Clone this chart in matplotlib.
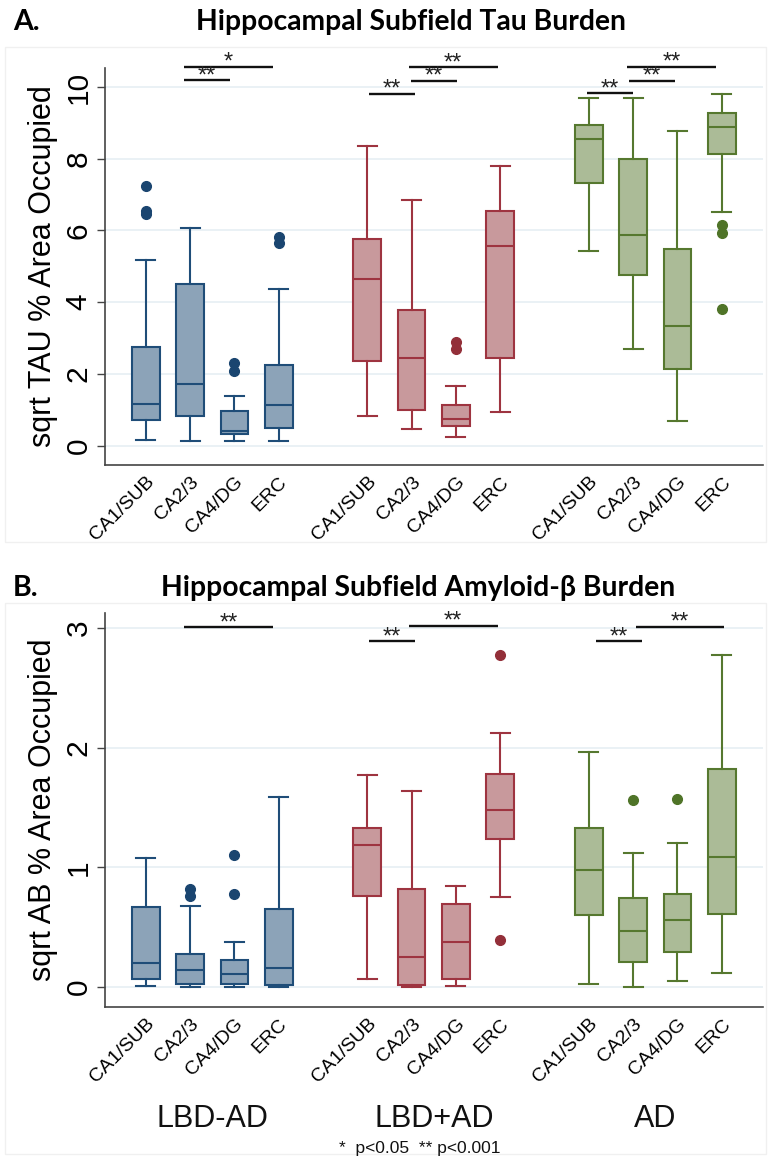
import matplotlib
matplotlib.use('Agg')
import matplotlib.pyplot as plt
from matplotlib.patches import Rectangle
import numpy as np

# ---- data ----
groups = ["LBD-AD", "LBD+AD", "AD"]
subfields = ["CA1/SUB", "CA2/3", "CA4/DG", "ERC"]

# tau: order = LBD-AD x4, LBD+AD x4, AD x4
tau_lo  = [0.15, 0.13, 0.13, 0.13,  0.84, 0.47, 0.25, 0.95,  5.44, 2.70, 0.69, 6.52]
tau_q1  = [0.71, 0.82, 0.33, 0.48,  2.36, 0.99, 0.56, 2.45,  7.32, 4.77, 2.13, 8.13]
tau_med = [1.16, 1.71, 0.42, 1.13,  4.65, 2.43, 0.74, 5.58,  8.55, 5.87, 3.34, 8.88]
tau_q3  = [2.74, 4.51, 0.97, 2.25,  5.75, 3.79, 1.13, 6.55,  8.95, 7.99, 5.47, 9.27]
tau_hi  = [5.19, 6.06, 1.38, 4.36,  8.36, 6.84, 1.66, 7.80,  9.70, 9.68, 8.76, 9.81]
tau_out = [[6.45, 6.55, 7.24], [], [2.08, 2.30], [5.64, 5.82],
           [], [], [2.70, 2.90], [],
           [], [], [], [3.80, 5.92, 6.14]]

# amyloid-beta
ab_lo  = [0.007, 0.0, 0.0, 0.0,   0.068, 0.0, 0.01, 0.75,   0.023, 0.0, 0.049, 0.115]
ab_q1  = [0.063, 0.026, 0.023, 0.02,  0.76, 0.02, 0.065, 1.24,  0.60, 0.21, 0.294, 0.61]
ab_med = [0.20, 0.146, 0.11, 0.163,  1.19, 0.25, 0.38, 1.48,  0.98, 0.47, 0.556, 1.09]
ab_q3  = [0.67, 0.28, 0.227, 0.65,  1.33, 0.82, 0.69, 1.78,  1.33, 0.74, 0.777, 1.82]
ab_hi  = [1.08, 0.68, 0.377, 1.59,  1.77, 1.64, 0.84, 2.12,  1.965, 1.12, 1.20, 2.77]
ab_out = [[], [0.76, 0.82], [0.78, 1.105], [],
          [], [], [], [0.39, 2.77],
          [], [1.56], [1.57], []]

# significance brackets: (x start, x end, y, label)
tau_sig = [(1.86, 3.87, 10.57, "*"), (1.86, 2.90, 10.19, "**"),
           (6.04, 7.07, 9.81, "**"), (6.99, 8.03, 10.17, "**"), (6.93, 8.95, 10.55, "**"),
           (10.96, 12.00, 9.82, "**"), (11.90, 12.94, 10.17, "**"), (11.86, 13.87, 10.56, "**")]
ab_sig = [(1.86, 3.87, 3.008, "**"),
          (6.04, 7.07, 2.89, "**"), (6.93, 8.94, 3.017, "**"),
          (11.16, 12.20, 2.89, "**"), (12.06, 14.06, 3.01, "**")]

# ---- style ----
positions = np.array([1, 2, 3, 4, 6, 7, 8, 9, 11, 12, 13, 14])
edge_cols = ["#1f4d78", "#9e3440", "#56782f"]
face_cols = ["#8ca3b8", "#c8999c", "#abbb97"]
dot_cols = ["#1a4570", "#932f39", "#4f7428"]
sans = ["Liberation Sans", "DejaVu Sans"]
plt.rcParams['font.family'] = sans

fig = plt.figure(figsize=(7.71, 11.59), dpi=100)
W, H = 771.0, 1159.0

def px_axes(l, t, r, b):
    return fig.add_axes([l / W, 1 - b / H, (r - l) / W, (b - t) / H])

# faint graph-region frames
for (l, t, r, b) in [(5, 47, 766, 542), (5, 603, 766, 1154)]:
    fig.patches.append(Rectangle((l / W, 1 - b / H), (r - l) / W, (b - t) / H,
                                 transform=fig.transFigure, fill=False,
                                 edgecolor="#f0f0f0", linewidth=1))

def draw_panel(ax, lo, q1, med, q3, hi, out, sig, yticks, ylim, ylabel):
    stats = []
    for i in range(len(positions)):
        stats.append(dict(whislo=lo[i], q1=q1[i], med=med[i], q3=q3[i],
                          whishi=hi[i], fliers=out[i]))
    for g in range(3):
        sl = slice(g * 4, g * 4 + 4)
        ec, fc, dc = edge_cols[g], face_cols[g], dot_cols[g]
        ax.bxp(stats[sl], positions=positions[sl], widths=0.625,
               capwidths=0.43, patch_artist=True, showfliers=True,
               boxprops=dict(facecolor=fc, edgecolor=ec, linewidth=1.5),
               medianprops=dict(color=ec, linewidth=1.5),
               whiskerprops=dict(color=ec, linewidth=1.5),
               capprops=dict(color=ec, linewidth=1.5),
               flierprops=dict(marker='o', markerfacecolor=dc,
                               markeredgecolor=dc, markersize=7))
    for x0, x1, y, lab in sig:
        ax.plot([x0, x1], [y, y], color="#111111", lw=1.7, clip_on=False,
                solid_capstyle='butt')
        ax.annotate(lab, xy=((x0 + x1) / 2, y), xytext=(0, -1.5),
                    textcoords='offset points', ha='center', va='baseline',
                    fontsize=17, color="#222222", annotation_clip=False)
    ax.set_xlim(0.08, 14.93)
    ax.set_ylim(*ylim)
    ax.set_yticks(yticks)
    ax.set_yticklabels([str(t) for t in yticks])
    ax.set_xticks(positions)
    ax.set_xticklabels(subfields * 3, rotation=45, ha='right', va='top',
                       rotation_mode='anchor', fontsize=14)
    ax.tick_params(axis='x', length=0, pad=6)
    ax.tick_params(axis='y', length=6, width=1, color="#444444",
                   labelrotation=90, labelsize=21.5, pad=3)
    for lab in ax.get_yticklabels():
        lab.set_va('center')
    ax.yaxis.grid(True, color="#e6eff3", linewidth=1.2)
    ax.set_axisbelow(True)
    for s in ['top', 'right']:
        ax.spines[s].set_visible(False)
    for s in ['left', 'bottom']:
        ax.spines[s].set_color("#444444")
        ax.spines[s].set_linewidth(1.2)
    ax.set_ylabel(ylabel, fontsize=22, labelpad=5)

ax1 = px_axes(105, 68, 763, 465)
draw_panel(ax1, tau_lo, tau_q1, tau_med, tau_q3, tau_hi, tau_out, tau_sig,
           [0, 2, 4, 6, 8, 10], (-0.54, 10.53), "sqrt TAU % Area Occupied")

ax2 = px_axes(105, 613, 763, 1007)
draw_panel(ax2, ab_lo, ab_q1, ab_med, ab_q3, ab_hi, ab_out, ab_sig,
           [0, 1, 2, 3], (-0.167, 3.125), "sqrt AB % Area Occupied")

# group names under the lower panel
for g in range(3):
    xc = positions[g * 4:g * 4 + 4].mean()
    ax2.text(xc, -0.283, groups[g], transform=ax2.get_xaxis_transform(),
             ha='center', va='center', fontsize=22, color="#111111")

# titles
title_font = ["Lato", "DejaVu Sans"]
fig.text(13 / W, 1 - 22 / H, "A.", fontsize=20.5, fontweight='bold',
         family=title_font, ha='left', va='center')
fig.text(411 / W, 1 - 22 / H, "Hippocampal Subfield Tau Burden", fontsize=20.3,
         fontweight='bold', family=title_font, ha='center', va='center')
fig.text(13 / W, 1 - 588 / H, "B.", fontsize=20.5, fontweight='bold',
         family=title_font, ha='left', va='center')
fig.text(418 / W, 1 - 588 / H, "Hippocampal Subfield Amyloid-β Burden", fontsize=20.3,
         fontweight='bold', family=title_font, ha='center', va='center')

fig.text(420 / W, 1 - 1148 / H, "*  p<0.05  ** p<0.001", fontsize=12.5,
         ha='center', va='center', color="#111111")

fig.savefig("out.png", dpi=100)
